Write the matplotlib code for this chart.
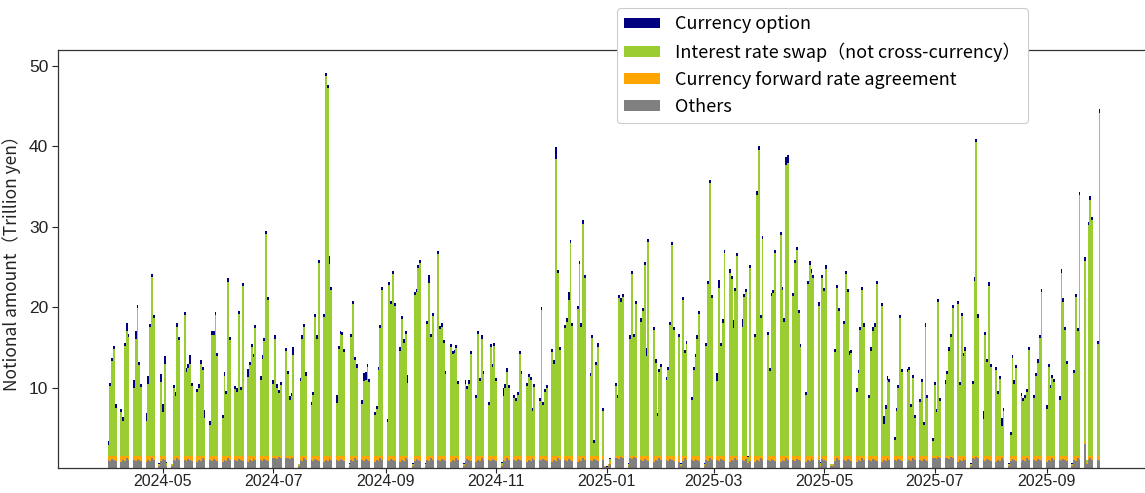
import numpy as np
import pandas as pd
import matplotlib
matplotlib.use("Agg")
import matplotlib.pyplot as plt
import matplotlib.dates as mdates
from matplotlib.patches import Patch

plt.rcParams['font.family'] = ['Noto Sans CJK JP', 'DejaVu Sans']

# Business days (weekdays) from 2024-04-01 to 2025-09-30
dates = pd.bdate_range("2024-04-01", "2025-09-30")

# Currency option (trillion yen), one line per week
option = [
    0.4, 0.4, 0.4, 0.4, 0.4,
    0.4, 0.4, 0.4, 1.0, 0.4,
    1.0, 1.0, 0.4, 0.4, 0.4,
    1.0, 1.0, 0.4, 0.4, 0.4,
    0.05, 1.0, 1.0, 1.0, 0.05,
    0.05, 0.4, 0.4, 0.4, 0.4,
    0.4, 0.4, 0.4, 1.0, 0.4,
    0.4, 0.4, 0.4, 0.4, 1.0,
    0.4, 0.4, 0.4, 0.4, 0.4,
    0.4, 0.4, 0.4, 0.4, 0.4,
    0.4, 0.4, 0.4, 0.4, 0.4,
    1.0, 0.4, 0.4, 0.4, 0.4,
    0.4, 0.4, 0.4, 0.4, 0.4,
    0.4, 0.4, 0.4, 0.4, 0.4,
    0.4, 0.4, 0.4, 0.4, 1.0,
    0.05, 0.4, 0.4, 0.4, 0.4,
    0.4, 0.4, 0.4, 0.4, 0.4,
    0.4, 0.4, 0.4, 1.0, 0.4,
    1.0, 0.4, 0.4, 0.4, 0.4,
    0.05, 0.4, 0.4, 0.4, 0.4,
    0.4, 1.0, 1.0, 0.4, 0.4,
    0.4, 0.4, 0.4, 0.4, 0.4,
    0.4, 0.4, 0.4, 0.4, 0.4,
    0.4, 0.4, 0.4, 0.4, 1.0,
    0.05, 0.4, 0.4, 0.4, 0.4,
    0.05, 0.4, 1.0, 0.4, 0.4,
    0.4, 0.4, 0.4, 0.4, 0.4,
    0.4, 0.4, 0.4, 0.4, 0.4,
    0.05, 0.4, 0.4, 0.4, 0.4,
    0.4, 0.4, 0.4, 0.4, 0.4,
    0.4, 0.4, 0.4, 0.4, 0.4,
    0.05, 1.0, 0.4, 0.4, 0.4,
    0.4, 0.4, 0.4, 0.4, 0.4,
    0.4, 0.4, 0.4, 0.4, 0.4,
    0.4, 0.4, 0.4, 0.4, 0.4,
    0.4, 0.4, 1.4, 0.4, 0.4,
    0.4, 0.4, 1.0, 0.4, 0.4,
    0.4, 0.4, 0.4, 0.4, 0.4,
    0.4, 0.4, 0.4, 0.4, 0.4,
    0.4, 0.02, 0.02, 0.05, 0.1,
    0.4, 0.4, 0.4, 0.4, 0.4,
    0.05, 0.4, 0.4, 0.4, 0.4,
    0.4, 0.4, 0.4, 1.0, 0.4,
    0.4, 0.4, 0.4, 0.4, 0.4,
    0.4, 0.4, 0.4, 0.4, 0.4,
    0.4, 0.05, 0.4, 0.4, 0.4,
    0.4, 0.4, 0.4, 0.4, 0.4,
    0.05, 0.4, 0.4, 0.4, 0.4,
    1.0, 1.0, 0.4, 0.4, 0.4,
    0.4, 0.4, 1.0, 0.4, 0.4,
    1.0, 0.4, 0.4, 0.1, 0.4,
    0.4, 0.4, 0.4, 0.4, 0.4,
    0.4, 0.4, 0.4, 0.4, 0.4,
    0.4, 0.4, 0.4, 1.0, 1.0,
    0.4, 0.4, 0.4, 0.4, 0.4,
    0.4, 0.4, 0.4, 0.4, 0.4,
    0.4, 0.05, 0.4, 0.4, 0.4,
    0.05, 0.05, 0.4, 0.4, 0.4,
    0.4, 0.4, 0.4, 0.4, 0.4,
    0.4, 0.4, 0.4, 0.4, 0.4,
    0.4, 0.4, 0.4, 0.4, 0.4,
    0.4, 1.0, 0.4, 0.4, 0.4,
    0.4, 0.4, 0.4, 0.4, 0.4,
    0.4, 0.4, 0.4, 0.4, 0.4,
    0.4, 0.4, 0.4, 0.4, 0.4,
    0.4, 0.4, 0.4, 0.4, 0.4,
    0.4, 0.4, 0.4, 0.4, 0.4,
    0.4, 0.4, 0.4, 0.4, 0.4,
    0.05, 0.4, 0.4, 0.4, 0.4,
    1.0, 0.4, 0.4, 0.4, 0.4,
    0.4, 0.4, 0.4, 1.0, 0.4,
    0.05, 0.4, 0.4, 0.4, 0.4,
    0.4, 0.4, 0.4, 0.4, 0.4,
    0.4, 0.4, 0.4, 0.4, 0.4,
    0.4, 0.4, 0.4, 0.4, 0.4,
    0.4, 0.4, 0.4, 0.4, 0.4,
    0.05, 0.4, 0.4, 0.4, 0.4,
    0.4, 0.05, 0.4, 0.4, 0.4,
    0.4, 0.4,
]

# Interest rate swap (not cross-currency)
swap = [
    1.4, 8.7, 11.8, 13.3, 6.0,
    5.5, 4.4, 13.7, 15.6, 14.8,
    8.4, 14.6, 18.4, 11.3, 8.6,
    4.4, 8.9, 16.0, 22.2, 17.1,
    0.15, 9.2, 5.5, 11.4, 0.25,
    0.05, 8.4, 7.5, 16.1, 14.4,
    17.5, 10.5, 11.0, 11.5, 8.7,
    7.9, 8.5, 11.5, 10.7, 4.7,
    3.9, 15.1, 15.1, 17.5, 12.4,
    4.7, 10.0, 7.7, 21.7, 14.4,
    8.3, 8.0, 17.6, 8.2, 21.1,
    9.8, 11.3, 13.5, 12.3, 15.9,
    9.5, 12.1, 14.3, 27.6, 19.4,
    9.0, 14.6, 8.5, 7.8, 8.8,
    13.0, 10.2, 7.0, 7.4, 12.5,
    0.05, 9.3, 14.6, 16.0, 10.0,
    6.3, 7.6, 17.3, 14.6, 24.0,
    17.3, 47.3, 45.8, 23.9, 20.6,
    6.6, 13.3, 15.2, 15.0, 12.9,
    0.15, 14.8, 18.9, 11.9, 11.0,
    6.5, 9.3, 9.5, 11.1, 9.2,
    5.1, 5.8, 10.7, 15.9, 20.6,
    4.2, 21.3, 18.9, 22.6, 18.6,
    13.1, 17.0, 14.1, 15.2, 9.1,
    0.15, 20.0, 20.4, 23.4, 24.0,
    0.15, 16.4, 21.5, 14.8, 17.4,
    25.1, 15.8, 16.1, 14.0, 10.2,
    13.5, 12.7, 12.8, 13.4, 8.9,
    0.15, 9.0, 8.3, 9.0, 12.7,
    7.2, 15.2, 9.3, 14.6, 10.2,
    6.3, 13.5, 11.1, 13.7, 9.3,
    0.25, 7.4, 8.5, 10.5, 8.4,
    7.2, 6.8, 7.6, 12.7, 10.2,
    8.7, 9.8, 9.4, 5.6, 8.6,
    6.8, 18.1, 6.3, 7.9, 8.4,
    12.9, 11.5, 37.0, 22.7, 13.2,
    15.9, 16.7, 19.4, 26.5, 16.2,
    18.3, 23.9, 16.1, 28.9, 22.1,
    9.9, 14.7, 1.6, 11.3, 13.6,
    5.6, 0.08, 0.03, 0.05, 0.4,
    8.7, 7.2, 19.6, 19.2, 19.8,
    0.15, 14.6, 22.6, 14.8, 18.9,
    16.7, 18.0, 23.7, 12.4, 26.6,
    15.7, 11.6, 5.0, 10.4, 11.1,
    9.4, 10.7, 16.3, 26.2, 15.7,
    14.8, 0.15, 19.4, 12.8, 13.9,
    6.9, 10.7, 12.3, 14.6, 17.6,
    0.15, 13.7, 21.4, 33.9, 19.6,
    9.3, 20.9, 13.7, 16.6, 25.2,
    22.8, 22.0, 15.9, 20.5, 24.9,
    16.0, 19.8, 20.4, 0.6, 23.4,
    14.8, 32.5, 38.1, 17.1, 27.0,
    15.0, 10.6, 19.9, 20.3, 25.2,
    27.5, 20.6, 16.7, 36.2, 36.5,
    19.9, 24.0, 25.6, 17.8, 13.5,
    7.6, 21.4, 23.8, 22.8, 22.1,
    18.7, 0.25, 22.1, 20.5, 23.3,
    0.05, 0.05, 12.9, 20.9, 18.0,
    16.4, 22.6, 20.4, 12.6, 12.8,
    8.0, 10.3, 15.7, 20.6, 16.1,
    7.2, 13.1, 15.6, 16.1, 21.4,
    18.6, 4.0, 5.9, 9.5, 9.2,
    2.0, 5.6, 8.4, 17.1, 10.4,
    10.4, 10.7, 6.1, 9.7, 4.7,
    6.7, 9.2, 3.8, 16.1, 7.2,
    1.8, 8.8, 5.5, 19.1, 6.8,
    9.0, 10.2, 13.1, 14.8, 18.4,
    18.9, 8.8, 17.4, 12.4, 13.1,
    0.15, 8.9, 21.8, 39.0, 17.2,
    4.6, 15.0, 11.7, 21.2, 11.1,
    10.7, 7.7, 9.6, 3.7, 5.6,
    0.15, 2.6, 12.2, 9.0, 10.9,
    7.4, 6.8, 7.2, 7.9, 13.2,
    7.2, 9.9, 11.6, 14.7, 20.4,
    5.9, 11.1, 8.4, 9.7, 9.2,
    7.0, 22.8, 19.2, 15.7, 11.4,
    0.15, 10.3, 19.8, 15.5, 32.4,
    22.5, 0.35, 28.7, 31.9, 29.3,
    13.9, 42.7,
]

# Currency forward rate agreement
fwd = [
    0.5, 0.6, 0.4, 0.5, 0.6,
    0.7, 0.5, 0.6, 0.3, 0.5,
    0.5, 0.6, 0.4, 0.5, 0.6,
    0.7, 0.5, 0.6, 0.3, 0.5,
    0.1, 0.6, 0.4, 0.5, 0.1,
    0.1, 0.5, 0.6, 0.3, 0.5,
    0.5, 0.6, 0.4, 0.5, 0.6,
    0.7, 0.5, 0.6, 0.3, 0.5,
    0.5, 0.6, 0.4, 0.5, 0.6,
    0.7, 0.5, 0.6, 0.3, 0.5,
    0.5, 0.6, 0.4, 0.5, 0.6,
    0.7, 0.5, 0.6, 0.3, 0.5,
    0.5, 0.6, 0.4, 0.5, 0.6,
    0.3, 0.2, 0.4, 0.1, 0.3,
    0.3, 0.2, 0.4, 0.1, 0.3,
    0.1, 0.5, 0.6, 0.3, 0.5,
    0.5, 0.6, 0.4, 0.5, 0.6,
    0.7, 0.5, 0.6, 0.3, 0.5,
    0.5, 0.6, 0.4, 0.5, 0.6,
    0.1, 0.5, 0.6, 0.3, 0.5,
    0.5, 0.6, 0.4, 0.5, 0.6,
    0.7, 0.5, 0.6, 0.3, 0.5,
    0.5, 0.6, 0.4, 0.5, 0.6,
    0.7, 0.5, 0.6, 0.3, 0.5,
    0.1, 0.6, 0.4, 0.5, 0.6,
    0.1, 0.5, 0.6, 0.3, 0.5,
    0.5, 0.6, 0.4, 0.5, 0.6,
    0.7, 0.5, 0.6, 0.3, 0.5,
    0.1, 0.6, 0.4, 0.5, 0.6,
    0.7, 0.5, 0.6, 0.3, 0.5,
    0.5, 0.6, 0.4, 0.5, 0.6,
    0.1, 0.5, 0.6, 0.3, 0.5,
    0.5, 0.6, 0.4, 0.5, 0.6,
    0.7, 0.5, 0.6, 0.3, 0.5,
    0.5, 0.6, 0.4, 0.5, 0.6,
    0.7, 0.5, 0.6, 0.3, 0.5,
    0.5, 0.6, 0.4, 0.5, 0.6,
    0.7, 0.5, 0.6, 0.3, 0.5,
    0.5, 0.6, 0.4, 0.5, 0.6,
    0.5, 0.05, 0.05, 0.1, 0.2,
    0.3, 0.2, 0.4, 0.1, 0.3,
    0.1, 0.2, 0.4, 0.1, 0.3,
    0.5, 0.6, 0.4, 0.5, 0.6,
    0.7, 0.5, 0.6, 0.3, 0.5,
    0.5, 0.6, 0.4, 0.5, 0.6,
    0.7, 0.1, 0.6, 0.3, 0.5,
    0.5, 0.6, 0.4, 0.5, 0.6,
    0.1, 0.5, 0.6, 0.3, 0.5,
    0.5, 0.6, 0.4, 0.5, 0.6,
    0.7, 0.5, 0.6, 0.3, 0.5,
    0.5, 0.6, 0.4, 0.2, 0.6,
    0.7, 0.5, 0.6, 0.3, 0.5,
    0.5, 0.6, 0.4, 0.5, 0.6,
    0.7, 0.5, 0.6, 0.3, 0.5,
    0.5, 0.6, 0.4, 0.5, 0.6,
    0.7, 0.5, 0.6, 0.3, 0.5,
    0.5, 0.1, 0.4, 0.5, 0.6,
    0.1, 0.1, 0.6, 0.3, 0.5,
    0.5, 0.6, 0.4, 0.5, 0.6,
    0.7, 0.5, 0.6, 0.3, 0.5,
    0.5, 0.6, 0.4, 0.5, 0.6,
    0.7, 0.5, 0.6, 0.3, 0.5,
    0.5, 0.6, 0.4, 0.5, 0.6,
    0.7, 0.5, 0.6, 0.3, 0.5,
    0.5, 0.6, 0.4, 0.5, 0.6,
    0.3, 0.2, 0.4, 0.1, 0.3,
    0.3, 0.2, 0.4, 0.1, 0.3,
    0.7, 0.5, 0.6, 0.3, 0.5,
    0.1, 0.2, 0.4, 0.1, 0.3,
    0.5, 0.6, 0.4, 0.5, 0.6,
    0.7, 0.5, 0.6, 0.3, 0.5,
    0.1, 0.6, 0.4, 0.5, 0.6,
    0.7, 0.5, 0.6, 0.3, 0.5,
    0.5, 0.6, 0.4, 0.5, 0.6,
    0.7, 0.5, 0.6, 0.3, 0.5,
    0.5, 0.6, 0.4, 0.5, 0.6,
    0.1, 0.5, 0.6, 0.3, 0.5,
    0.3, 0.1, 0.5, 0.3, 0.5,
    0.5, 0.6,
]

# Others
others = [
    1.0, 0.9, 1.1, 1.0, 0.9,
    0.8, 1.0, 0.9, 1.2, 1.0,
    1.0, 0.9, 1.1, 1.0, 0.9,
    0.8, 1.0, 0.9, 1.2, 1.0,
    0.3, 0.9, 1.1, 1.0, 0.3,
    0.3, 1.0, 0.9, 1.2, 1.0,
    1.0, 0.9, 1.1, 1.0, 0.9,
    0.8, 1.0, 0.9, 1.2, 1.0,
    1.0, 0.9, 1.1, 1.0, 0.9,
    0.8, 1.0, 0.9, 1.2, 1.0,
    1.0, 0.9, 1.1, 1.0, 0.9,
    0.8, 1.0, 0.9, 1.2, 1.0,
    1.0, 0.9, 1.1, 1.0, 0.9,
    1.2, 1.3, 1.1, 1.4, 1.2,
    1.2, 1.3, 1.1, 1.4, 1.2,
    0.3, 1.0, 0.9, 1.2, 1.0,
    1.0, 0.9, 1.1, 1.0, 0.9,
    0.8, 1.0, 0.9, 1.2, 1.0,
    1.0, 0.9, 1.1, 1.0, 0.9,
    0.3, 1.0, 0.9, 1.2, 1.0,
    1.0, 0.9, 1.1, 1.0, 0.9,
    0.8, 1.0, 0.9, 1.2, 1.0,
    1.0, 0.9, 1.1, 1.0, 0.9,
    0.8, 1.0, 0.9, 1.2, 1.0,
    0.3, 0.9, 1.1, 1.0, 0.9,
    0.3, 1.0, 0.9, 1.2, 1.0,
    1.0, 0.9, 1.1, 1.0, 0.9,
    0.8, 1.0, 0.9, 1.2, 1.0,
    0.3, 0.9, 1.1, 1.0, 0.9,
    0.8, 1.0, 0.9, 1.2, 1.0,
    1.0, 0.9, 1.1, 1.0, 0.9,
    0.3, 1.0, 0.9, 1.2, 1.0,
    1.0, 0.9, 1.1, 1.0, 0.9,
    0.8, 1.0, 0.9, 1.2, 1.0,
    1.0, 0.9, 1.1, 1.0, 0.9,
    0.8, 1.0, 0.9, 1.2, 1.0,
    1.0, 0.9, 1.1, 1.0, 0.9,
    0.8, 1.0, 0.9, 1.2, 1.0,
    1.0, 0.9, 1.1, 1.0, 0.9,
    1.0, 0.15, 0.1, 0.3, 0.5,
    1.2, 1.3, 1.1, 1.4, 1.2,
    0.3, 1.3, 1.1, 1.4, 1.2,
    1.0, 0.9, 1.1, 1.0, 0.9,
    0.8, 1.0, 0.9, 1.2, 1.0,
    1.0, 0.9, 1.1, 1.0, 0.9,
    0.8, 0.3, 0.9, 1.2, 1.0,
    1.0, 0.9, 1.1, 1.0, 0.9,
    0.3, 1.0, 0.9, 1.2, 1.0,
    1.0, 0.9, 1.1, 1.0, 0.9,
    0.8, 1.0, 0.9, 1.2, 1.0,
    1.0, 0.9, 1.1, 0.6, 0.9,
    0.8, 1.0, 0.9, 1.2, 1.0,
    1.0, 0.9, 1.1, 1.0, 0.9,
    0.8, 1.0, 0.9, 1.2, 1.0,
    1.0, 0.9, 1.1, 1.0, 0.9,
    0.8, 1.0, 0.9, 1.2, 1.0,
    1.0, 0.3, 1.1, 1.0, 0.9,
    0.3, 0.3, 0.9, 1.2, 1.0,
    1.0, 0.9, 1.1, 1.0, 0.9,
    0.8, 1.0, 0.9, 1.2, 1.0,
    1.0, 0.9, 1.1, 1.0, 0.9,
    0.8, 1.0, 0.9, 1.2, 1.0,
    1.0, 0.9, 1.1, 1.0, 0.9,
    0.8, 1.0, 0.9, 1.2, 1.0,
    1.0, 0.9, 1.1, 1.0, 0.9,
    1.2, 1.3, 1.1, 1.4, 1.2,
    1.2, 1.3, 1.1, 1.4, 1.2,
    0.8, 1.0, 0.9, 1.2, 1.0,
    0.3, 1.3, 1.1, 1.4, 1.2,
    1.0, 0.9, 1.1, 1.0, 0.9,
    0.8, 1.0, 0.9, 1.2, 1.0,
    0.3, 0.9, 1.1, 1.0, 0.9,
    0.8, 1.0, 0.9, 1.2, 1.0,
    1.0, 0.9, 1.1, 1.0, 0.9,
    0.8, 1.0, 0.9, 1.2, 1.0,
    1.0, 0.9, 1.1, 1.0, 0.9,
    0.3, 1.0, 0.9, 1.2, 1.0,
    3.0, 0.5, 1.0, 1.2, 1.0,
    1.0, 0.9,
]

n = len(dates)
assert len(option) == n and len(swap) == n and len(fwd) == n and len(others) == n, \
    (n, len(option), len(swap), len(fwd), len(others))

others_a = np.array(others)
fwd_a = np.array(fwd)
swap_a = np.array(swap)
option_a = np.array(option)

c_option = "#000080"
c_swap = "#9ACD32"
c_fwd = "#FFA500"
c_others = "#808080"

fig = plt.figure(figsize=(11.45, 4.93), dpi=100)
ax = fig.add_axes([58 / 1145, 25 / 493, 1092 / 1145, 418 / 493])

kw = dict(width=1.0, linewidth=0, antialiased=False)
ax.bar(dates, others_a, color=c_others, **kw)
ax.bar(dates, fwd_a, bottom=others_a, color=c_fwd, **kw)
ax.bar(dates, swap_a, bottom=others_a + fwd_a, color=c_swap, **kw)
ax.bar(dates, option_a, bottom=others_a + fwd_a + swap_a, color=c_option, **kw)

ax.set_ylim(0, 52)
ax.set_yticks([10, 20, 30, 40, 50])
ax.xaxis.set_major_locator(mdates.MonthLocator(bymonth=[1, 3, 5, 7, 9, 11]))
ax.xaxis.set_major_formatter(mdates.DateFormatter("%Y-%m"))
ax.tick_params(axis="both", colors="#222222", width=0.8,
               labelfontfamily="Liberation Sans")
ax.tick_params(axis="x", labelsize=11.5, length=3.5, pad=1.0)
ax.tick_params(axis="y", labelsize=12.5, length=4.5, pad=2.5)
ax.set_ylabel("Notional amount（Trillion yen）", fontsize=12.5, color="#222222",
              labelpad=6)

for sp in ax.spines.values():
    sp.set_color("#333333")
    sp.set_linewidth(0.9)

handles = [
    Patch(facecolor=c_option, label="Currency option"),
    Patch(facecolor=c_swap, label="Interest rate swap（not cross-currency）"),
    Patch(facecolor=c_fwd, label="Currency forward rate agreement"),
    Patch(facecolor=c_others, label="Others"),
]
leg = ax.legend(handles=handles, loc="upper left", bbox_to_anchor=(0.512, 1.1),
                borderaxespad=0, fontsize=13, frameon=True, framealpha=1,
                edgecolor="#cccccc", fancybox=True, labelspacing=0.5,
                handleheight=0.55)
leg.get_frame().set_linewidth(0.8)

fig.savefig("out.png", dpi=100)
